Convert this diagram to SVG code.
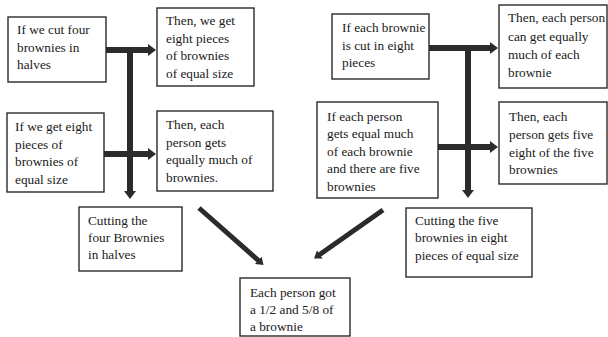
<svg xmlns="http://www.w3.org/2000/svg" width="608" height="337" viewBox="0 0 608 337">
<style>
.box{fill:#fff;stroke:#2a2a2a;stroke-width:1.4}
.t{font-family:"Liberation Serif","Times New Roman",serif;font-size:13.3px;fill:#1a1a1a}
.c{stroke:#2b2b2b;stroke-width:6;fill:none}
.d{stroke:#2b2b2b;stroke-width:5;fill:none}
</style>
<defs>
<marker id="ah" markerWidth="8" markerHeight="12" refX="1" refY="6" orient="auto" markerUnits="userSpaceOnUse"><path d="M0,0 L8,6 L0,12 Z" fill="#2b2b2b"/></marker>
<marker id="ad" markerWidth="7" markerHeight="10" refX="1" refY="5" orient="auto" markerUnits="userSpaceOnUse"><path d="M0,0 L7,5 L0,10 Z" fill="#2b2b2b"/></marker>
</defs>
<rect width="608" height="337" fill="#fff"/>
<g id="connectors">
<line class="c" x1="106" y1="50" x2="149" y2="50" marker-end="url(#ah)"/>
<line class="c" x1="104" y1="154" x2="149" y2="154" marker-end="url(#ah)"/>
<line class="c" x1="130" y1="47" x2="130" y2="192" marker-end="url(#ah)"/>
<line class="c" x1="429" y1="48" x2="491" y2="48" marker-end="url(#ah)"/>
<line class="c" x1="438" y1="147" x2="491" y2="147" marker-end="url(#ah)"/>
<line class="c" x1="468" y1="45" x2="468" y2="191" marker-end="url(#ah)"/>
<line class="d" x1="199" y1="208" x2="259" y2="261" marker-end="url(#ad)"/>
<line class="d" x1="383" y1="210" x2="319" y2="255" marker-end="url(#ad)"/>
</g>
<g id="n1"><rect class="box" x="8" y="17" width="98" height="65"/>
<text class="t" x="17"><tspan x="17" y="34">If we cut four</tspan><tspan x="17" y="51.5">brownies in</tspan><tspan x="17" y="69">halves</tspan></text></g>
<g id="n2"><rect class="box" x="157" y="8" width="97" height="78"/>
<text class="t"><tspan x="166" y="25">Then, we get</tspan><tspan x="166" y="42.5">eight pieces</tspan><tspan x="166" y="60">of brownies</tspan><tspan x="166" y="77.5">of equal size</tspan></text></g>
<g id="n3"><rect class="box" x="7" y="113" width="97" height="79"/>
<text class="t"><tspan x="15" y="131">If we get eight</tspan><tspan x="15" y="148.5">pieces of</tspan><tspan x="15" y="166">brownies of</tspan><tspan x="15" y="183.5">equal size</tspan></text></g>
<g id="n4"><rect class="box" x="157" y="111" width="116" height="80"/>
<text class="t"><tspan x="166" y="129">Then, each</tspan><tspan x="166" y="147">person gets</tspan><tspan x="166" y="164">equally much of</tspan><tspan x="166" y="182">brownies.</tspan></text></g>
<g id="n5"><rect class="box" x="79" y="207" width="103" height="64"/>
<text class="t"><tspan x="88" y="225">Cutting the</tspan><tspan x="88" y="242">four Brownies</tspan><tspan x="88" y="259">in halves</tspan></text></g>
<g id="n6"><rect class="box" x="240" y="278" width="110" height="58"/>
<text class="t"><tspan x="250" y="297">Each person got</tspan><tspan x="250" y="314">a 1/2 and 5/8 of</tspan><tspan x="250" y="331">a brownie</tspan></text></g>
<g id="n7"><rect class="box" x="332" y="14" width="97" height="65"/>
<text class="t"><tspan x="342" y="32">If each brownie</tspan><tspan x="342" y="50">is cut in eight</tspan><tspan x="342" y="67">pieces</tspan></text></g>
<g id="n8"><rect class="box" x="499" y="5" width="108" height="83"/>
<text class="t"><tspan x="508" y="22">Then, each person</tspan><tspan x="508" y="41">can get equally</tspan><tspan x="508" y="59">much of each</tspan><tspan x="508" y="77">brownie</tspan></text></g>
<g id="n9"><rect class="box" x="317" y="102" width="121" height="96"/>
<text class="t"><tspan x="327" y="121">If each person</tspan><tspan x="327" y="138">gets equal much</tspan><tspan x="327" y="156">of each brownie</tspan><tspan x="327" y="173">and there are five</tspan><tspan x="327" y="191">brownies</tspan></text></g>
<g id="n10"><rect class="box" x="499" y="102" width="108" height="82"/>
<text class="t"><tspan x="509" y="121">Then, each</tspan><tspan x="509" y="139">person gets five</tspan><tspan x="509" y="157">eight of the five</tspan><tspan x="509" y="174">brownies</tspan></text></g>
<g id="n11"><rect class="box" x="406" y="208" width="126" height="69"/>
<text class="t"><tspan x="415" y="225">Cutting the five</tspan><tspan x="415" y="242">brownies in eight</tspan><tspan x="415" y="260">pieces of equal size</tspan></text></g>
</svg>
